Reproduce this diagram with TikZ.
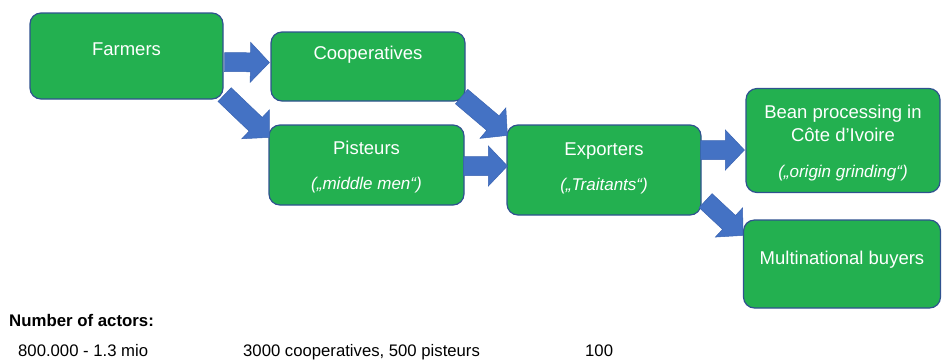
\documentclass[tikz,border=0pt]{standalone}
\usepackage{fontspec}
\setmainfont{Liberation Sans}
\usetikzlibrary{calc}
\definecolor{boxgreen}{RGB}{35,176,80}
\definecolor{boxline}{RGB}{47,82,143}
\definecolor{arrowblue}{RGB}{68,114,196}
\definecolor{arrowline}{RGB}{58,100,178}
\tikzset{
  actor/.style={draw=boxline, line width=1.2pt, fill=boxgreen, rounded corners=11pt, inner sep=0pt, rectangle},
  boxtext/.style={text=white, inner sep=0pt, anchor=base, font=\fontsize{18.5}{22}\selectfont},
  boxnote/.style={text=white, inner sep=0pt, anchor=base, font=\fontsize{17}{20}\selectfont\itshape},
  plaintext/.style={text=black, inner sep=0pt, anchor=base west, font=\fontsize{16.7}{20}\selectfont},
  flowarrowstyle/.style={fill=arrowblue, draw=arrowline, line width=0.5pt, line join=miter}
}
\newcommand{\flowarrow}[2]{%
  \coordinate (fa-base) at ($(#2)!19pt!(#1)$);
  \filldraw[flowarrowstyle] ($(#1)!9.5pt!90:(#2)$) -- ($(fa-base)!9.5pt!90:(#2)$) -- ($(fa-base)!20pt!90:(#2)$) -- (#2) -- ($(fa-base)!20pt!-90:(#2)$) -- ($(fa-base)!9.5pt!-90:(#2)$) -- ($(#1)!9.5pt!-90:(#2)$) -- cycle;}
\begin{document}
\begin{tikzpicture}[x=1pt,y=-1pt]
\useasboundingbox (0,0) rectangle (942,360);
% boxes
\node[actor, minimum width=193pt, minimum height=86pt] (farm) at (126.5,56) {};
\node[actor, minimum width=194pt, minimum height=69pt] (coop) at (368,66.5) {};
\node[actor, minimum width=195pt, minimum height=80pt] (pist) at (366.5,165) {};
\node[actor, minimum width=194pt, minimum height=90pt] (expo) at (604,170) {};
\node[actor, minimum width=194pt, minimum height=104pt] (bean) at (843,140.5) {};
\node[actor, minimum width=197pt, minimum height=88pt] (multi) at (842,264) {};
% box texts
\node[boxtext] (farm-t) at (farm.center |- 0,55) {Farmers};
\node[boxtext] (coop-t) at (coop.center |- 0,59) {Cooperatives};
\node[boxtext] (pist-t) at (pist.center |- 0,154) {Pisteurs};
\node[boxnote] (pist-n) at (pist.center |- 0,189) {(„middle men“)};
\node[boxtext] (expo-t) at (expo.center |- 0,155) {Exporters};
\node[boxnote] (expo-n) at (expo.center |- 0,190) {(„Traitants“)};
\node[boxtext] (bean-t1) at (bean.center |- 0,118) {Bean processing in};
\node[boxtext] (bean-t2) at (bean.center |- 0,141) {Côte d’Ivoire};
\node[boxnote] (bean-n) at (bean.center |- 0,177) {(„origin grinding“)};
\node[boxtext] (multi-t) at (multi.center |- 0,264) {Multinational buyers};
% arrow end points
\coordinate (a1-tail) at ($(farm.east)+(1,6)$);
\coordinate (a1-tip) at ($(coop.west)+(-1,-4)$);
\coordinate (a2-tail) at ($(farm.south east)+(1,-5)$);
\coordinate (a2-tip) at ($(pist.north west)+(1,13)$);
\coordinate (a3-tail) at ($(coop.south east)+(-4,-5)$);
\coordinate (a3-tip) at ($(expo.north west)+(1,11)$);
\coordinate (a4-tail) at ($(pist.east)+(-1,1)$);
\coordinate (a4-tip) at ($(expo.west)+(1,-4)$);
\coordinate (a5-tail) at ($(expo.east)+(-1,-20)$);
\coordinate (a5-tip) at ($(bean.west)+(-1,9.5)$);
\coordinate (a6-tail) at ($(expo.south east)+(4,-15)$);
\coordinate (a6-tip) at ($(multi.north west)+(0,16)$);
\flowarrow{a1-tail}{a1-tip}
\flowarrow{a2-tail}{a2-tip}
\flowarrow{a3-tail}{a3-tip}
\flowarrow{a4-tail}{a4-tip}
\flowarrow{a5-tail}{a5-tip}
\flowarrow{a6-tail}{a6-tip}
% bottom text
\node[plaintext, font=\fontsize{16.8}{20}\selectfont\bfseries] (num) at (9,326) {Number of actors:};
\node[plaintext] (n1) at (18,356.3) {800.000 - 1.3 mio};
\node[plaintext] (n2) at (243,356.3) {3000 cooperatives, 500 pisteurs};
\node[plaintext] (n3) at (585,356.3) {100};
\end{tikzpicture}
\end{document}
